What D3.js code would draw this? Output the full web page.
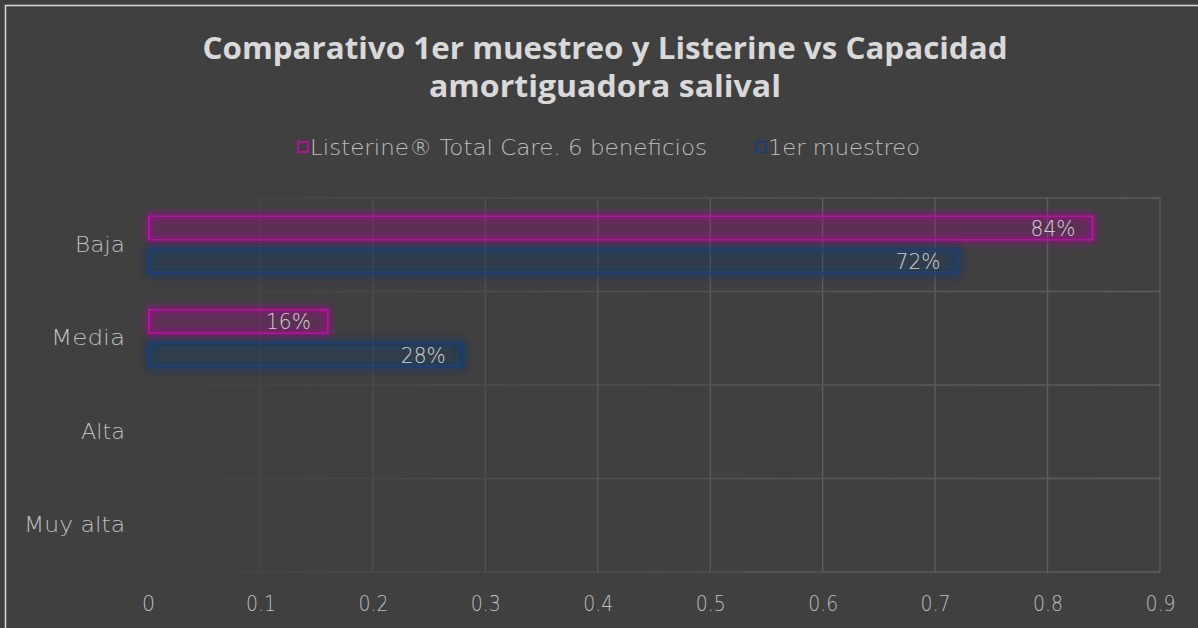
<!DOCTYPE html>
<html>
<head>
<meta charset="utf-8">
<script src="https://cdn.jsdelivr.net/npm/d3@7"></script>
<style>
  body { margin: 0; background: #404040; }
  svg { display: block; }
</style>
</head>
<body>
<svg id="chart" width="1198" height="628"></svg>
<script>
// datos
const categorias = ['Baja', 'Media', 'Alta', 'Muy alta']
const series = ['Listerine® Total Care. 6 beneficios', '1er muestreo']
const listerine = [0.84, 0.16, null, null]
const muestreo1 = [0.72, 0.28, null, null]
const ticksX = [0, 0.1, 0.2, 0.3, 0.4, 0.5, 0.6, 0.7, 0.8, 0.9]
const colores = ['#b0129a', '#1c3c74']

const W = 1198, H = 628
const margin = { left: 148, right: 38, top: 198, bottom: 56 }
const svg = d3.select('#chart')
const fuente = '"DejaVu Sans", sans-serif'

// la fuente original (Century Gothic) es mas ancha: se estira el texto al ancho medido
const ajustar = (sel, ancho) => {
    sel.attr('textLength', d => typeof ancho === 'function' ? ancho(d) : ancho)
        .attr('lengthAdjust', 'spacingAndGlyphs')
}

svg.append('rect').attr('width', W).attr('height', H).attr('fill', '#404040')
// borde del area del grafico
svg.append('rect')
    .attr('x', 5.5).attr('y', 5.5).attr('width', W).attr('height', H)
    .attr('fill', 'none').attr('stroke', '#d9d9d9').attr('stroke-width', 1.5)

const defs = svg.append('defs')
colores.forEach((c, i) => {
    const f = defs.append('filter').attr('id', 'glow' + i)
        .attr('x', '-10%').attr('y', '-60%').attr('width', '120%').attr('height', '220%')
    f.append('feGaussianBlur').attr('in', 'SourceGraphic').attr('stdDeviation', 4).attr('result', 'b')
    const m = f.append('feMerge')
    m.append('feMergeNode').attr('in', 'b')
    m.append('feMergeNode').attr('in', 'b')
    m.append('feMergeNode').attr('in', 'SourceGraphic')
})
const gradH = defs.append('linearGradient').attr('id', 'gridH')
    .attr('gradientUnits', 'userSpaceOnUse')
    .attr('x1', margin.left).attr('x2', W - margin.right).attr('y1', 0).attr('y2', 0)
gradH.append('stop').attr('offset', '0%').attr('stop-color', '#404040')
gradH.append('stop').attr('offset', '25%').attr('stop-color', '#4a4a4a')
gradH.append('stop').attr('offset', '100%').attr('stop-color', '#5e5e5e')

const x = d3.scaleLinear().domain([0, 0.9]).range([margin.left, W - margin.right])
const y = d3.scaleBand().domain(categorias).range([margin.top, H - margin.bottom])
const ySub = d3.scaleBand().domain(series).range([0, y.bandwidth()])
    .paddingInner(0.3).paddingOuter(0.55)

// lineas de cuadricula
const grid = svg.append('g')
grid.selectAll('line.v').data(ticksX).enter().append('line')
    .attr('x1', d => x(d)).attr('x2', d => x(d))
    .attr('y1', margin.top).attr('y2', H - margin.bottom)
    .attr('stroke', d => d3.interpolateRgb('#434343', '#5e5e5e')(Math.min(1, d / 0.5)))
    .attr('stroke-width', 1.3)
const hLines = categorias.map(c => y(c)).concat([H - margin.bottom])
grid.selectAll('line.h').data(hLines).enter().append('line')
    .attr('x1', margin.left).attr('x2', W - margin.right)
    .attr('y1', d => d).attr('y2', d => d)
    .attr('stroke', 'url(#gridH)').attr('stroke-width', 1.3)

// barras
const datos = [listerine, muestreo1]
datos.forEach((vals, si) => {
    const g = svg.append('g')
    const rows = categorias.map((c, i) => ({ c, v: vals[i] })).filter(d => d.v != null)
    g.selectAll('rect').data(rows).enter().append('rect')
        .attr('x', x(0) + 1)
        .attr('y', d => y(d.c) + ySub(series[si]))
        .attr('width', d => x(d.v) - x(0) - 1)
        .attr('height', ySub.bandwidth())
        .attr('fill', colores[si]).attr('fill-opacity', 0.08)
        .attr('stroke', colores[si]).attr('stroke-width', 2)
        .attr('filter', 'url(#glow' + si + ')')
    g.selectAll('text').data(rows).enter().append('text')
        .attr('x', d => x(d.v) - 17)
        .attr('y', d => y(d.c) + ySub(series[si]) + ySub.bandwidth() / 2)
        .attr('dy', '0.36em')
        .attr('text-anchor', 'end')
        .attr('fill', '#d0d0d0')
        .style('font', '200 22px ' + fuente)
        .text(d => Math.round(d.v * 100) + '%')
        .call(ajustar, 45)
})

// ejes
const xAxis = svg.append('g').attr('transform', `translate(0,${H - margin.bottom})`)
    .call(d3.axisBottom(x).tickValues(ticksX).tickSize(0).tickPadding(23).tickFormat(d3.format('')))
xAxis.select('.domain').remove()
xAxis.selectAll('text').attr('fill', '#bfbfbf').style('font', '200 22px ' + fuente)
    .call(ajustar, d => d === 0 ? 13 : 30)

const anchosY = { 'Baja': 50, 'Media': 74, 'Alta': 44, 'Muy alta': 101 }
const yAxis = svg.append('g').attr('transform', `translate(${margin.left},0)`)
    .call(d3.axisLeft(y).tickSize(0).tickPadding(23))
yAxis.select('.domain').remove()
yAxis.selectAll('text').attr('fill', '#bfbfbf').style('font', '200 22px ' + fuente)
    .call(ajustar, d => anchosY[d])

// titulo
const titulo = ['Comparativo 1er muestreo y Listerine vs Capacidad', 'amortiguadora salival']
const anchosTitulo = [805, 352]
svg.append('g').selectAll('text').data(titulo).enter().append('text')
    .attr('x', 605).attr('y', (d, i) => 59 + i * 38)
    .attr('text-anchor', 'middle')
    .attr('fill', '#d9d9d9')
    .style('font', 'bold 30px "Open Sans", sans-serif')
    .text(d => d)
    .call(ajustar, d => anchosTitulo[titulo.indexOf(d)])

// leyenda
const legX = [297, 755]
const anchosLeg = [397, 152]
const leg = svg.append('g')
series.forEach((s, i) => {
    leg.append('rect').attr('x', legX[i] + 1).attr('y', 142).attr('width', 10).attr('height', 10)
        .attr('fill', 'none').attr('stroke', colores[i]).attr('stroke-width', 2)
    leg.append('text').attr('x', legX[i] + 13).attr('y', 155)
        .attr('fill', '#bfbfbf')
        .style('font', '200 22px ' + fuente)
        .text(s)
        .call(ajustar, anchosLeg[i])
})
</script>
</body>
</html>
